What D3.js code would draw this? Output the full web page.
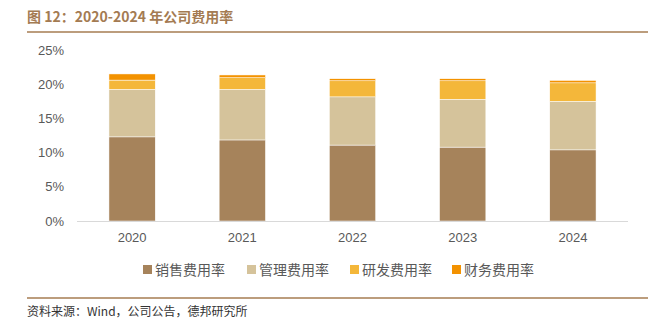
<!DOCTYPE html>
<html><head><meta charset="utf-8">
<script src="https://cdn.jsdelivr.net/npm/d3@7"></script>
<style>body{margin:0;background:#fff}svg{display:block}</style>
</head><body>
<script>
const years = ["2020","2021","2022","2023","2024"];
const seriesNames = ["销售费用率","管理费用率","研发费用率","财务费用率"];
const sales   = [12.3, 11.85, 11.1, 10.8, 10.4];
const admin   = [6.95, 7.4, 7.05, 7.0, 7.1];
const rnd     = [1.35, 1.7, 2.35, 2.7, 2.7];
const finance = [0.9, 0.4, 0.3, 0.3, 0.35];
const yTicks = [0,5,10,15,20,25];
const colors = ["#A6835B","#D5C39B","#F4B73A","#F39200"];
const titleText = "图 12：2020-2024 年公司费用率";
const sourceText = "资料来源：Wind，公司公告，德邦研究所";

const W=654,H=331;
const svg=d3.select("body").append("svg").attr("width",W).attr("height",H);
const font="'Liberation Sans','Noto Sans CJK SC',sans-serif";

// title
svg.append("text").attr("x",27).attr("y",22).attr("font-family","'Noto Sans CJK SC',sans-serif")
 .attr("font-size",14).attr("font-weight","bold").attr("fill","#A47B52").text(titleText);
svg.append("line").attr("x1",27).attr("x2",648).attr("y1",32).attr("y2",32).attr("stroke","#A67C52").attr("stroke-width",1.5);
svg.append("line").attr("x1",27).attr("x2",648).attr("y1",298).attr("y2",298).attr("stroke","#A67C52").attr("stroke-width",1.5);
svg.append("text").attr("x",27).attr("y",316).attr("font-family","'Noto Sans CJK SC',sans-serif")
 .attr("font-size",12).attr("fill","#333").text(sourceText);

const x=d3.scaleBand().domain(years).range([77,628]).paddingInner(0.58).paddingOuter(0.29);
const y=d3.scaleLinear().domain([0,25]).range([221,50]);

const data=years.map((yr,i)=>({year:yr,s0:sales[i],s1:admin[i],s2:rnd[i],s3:finance[i]}));
const stack=d3.stack().keys(["s0","s1","s2","s3"])(data);

svg.append("g").selectAll("g").data(stack).join("g").attr("fill",(d,i)=>colors[i])
 .selectAll("rect").data(d=>d).join("rect")
 .attr("x",d=>x(d.data.year)).attr("width",x.bandwidth())
 .attr("y",d=>y(d[1])).attr("height",d=>y(d[0])-y(d[1]))
 .attr("stroke","#fff").attr("stroke-width",0.5);

// axis line
svg.append("line").attr("x1",77).attr("x2",628).attr("y1",221.5).attr("y2",221.5).attr("stroke","#D9D9D9").attr("stroke-width",1);

// y labels
const ya=d3.axisLeft(y).tickValues(yTicks).tickFormat(d=>d+"%").tickSize(0).tickPadding(0);
const gy=svg.append("g").attr("transform","translate(64,0)").call(ya);
gy.select(".domain").remove();
gy.selectAll("text").attr("font-family",font).attr("font-size",13).attr("fill","#595959");

// x labels
const xa=d3.axisBottom(x).tickSize(0).tickPadding(0);
const gx=svg.append("g").attr("transform","translate(0,233)").call(xa);
gx.select(".domain").remove();
gx.selectAll("text").attr("font-family",font).attr("font-size",13).attr("fill","#595959").attr("dy","0.71em");

// legend
const lx=[143,247,350,452];
const lg=svg.append("g").selectAll("g").data(seriesNames).join("g").attr("transform",(d,i)=>`translate(${lx[i]},270)`);
lg.append("rect").attr("x",0).attr("y",-5).attr("width",9).attr("height",9).attr("fill",(d,i)=>colors[i]);
lg.append("text").attr("x",12).attr("y",0).attr("dy","0.35em").attr("font-family","'Noto Sans CJK SC',sans-serif")
 .attr("font-size",14).attr("fill","#595959").text(d=>d);
</script>
</body></html>
